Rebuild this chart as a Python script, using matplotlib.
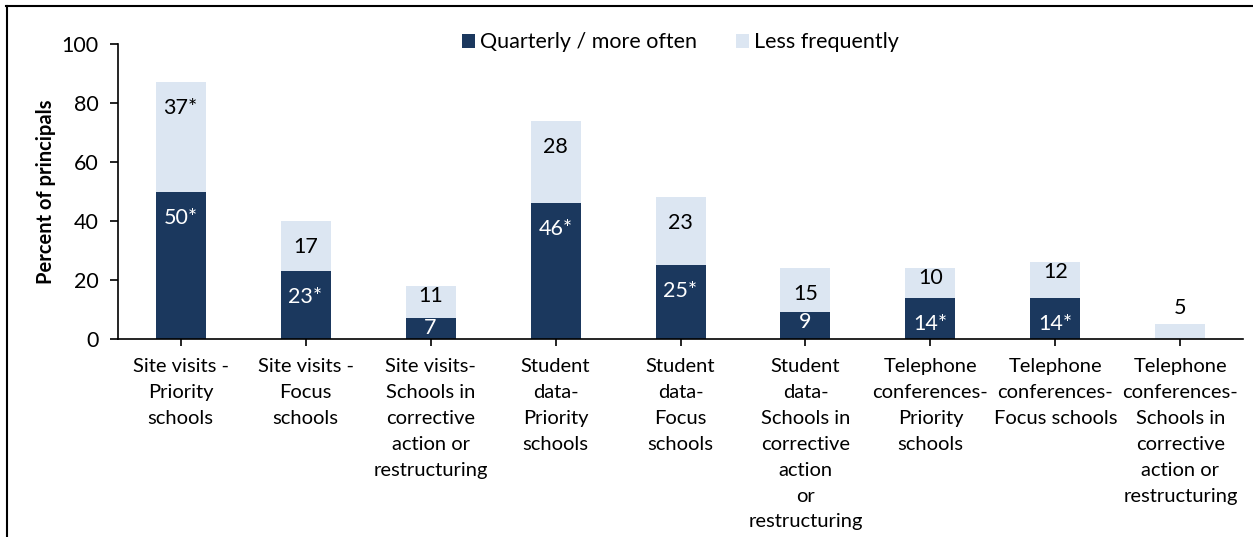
import numpy as np
import matplotlib.pyplot as plt
from matplotlib.lines import Line2D

plt.rcParams['font.family'] = ['Lato', 'DejaVu Sans']

# category labels and values (percent of principals)
categories = [
    'Site visits -\nPriority\nschools',
    'Site visits -\nFocus\nschools',
    'Site visits-\nSchools in\ncorrective\naction or\nrestructuring',
    'Student\ndata-\nPriority\nschools',
    'Student\ndata-\nFocus\nschools',
    'Student\ndata-\nSchools in\ncorrective\naction\nor\nrestructuring',
    'Telephone\nconferences-\nPriority\nschools',
    'Telephone\nconferences-\nFocus schools',
    'Telephone\nconferences-\nSchools in\ncorrective\naction or\nrestructuring',
]
quarterly = [50, 23, 7, 46, 25, 9, 14, 14, 0]
less_freq = [37, 17, 11, 28, 23, 15, 10, 12, 5]
quarterly_labels = ['50*', '23*', '7', '46*', '25*', '9', '14*', '14*', '']
less_labels = ['37*', '17', '11', '28', '23', '15', '10', '12', '5']

dark = '#1b385e'
light = '#dce6f2'
fs = 14.5

fig = plt.figure(figsize=(12.53, 5.37), dpi=100)
ax = fig.add_axes([0.0942, 0.3687, 0.8978, 0.5493])

x = np.arange(len(categories))
w = 0.4
b1 = ax.bar(x, quarterly, w, color=dark, label='Quarterly / more often')
b2 = ax.bar(x, less_freq, w, bottom=quarterly, color=light, label='Less frequently')

ax.set_xlim(-0.5, len(categories) - 0.5)
ax.set_ylim(0, 100)
ax.set_yticks(range(0, 101, 20))
ax.set_xticks(x)
ax.set_xticklabels(categories, fontsize=fs, linespacing=1.63)
ax.tick_params(axis='y', labelsize=15.5, direction='out', length=6, width=1.2, pad=8)
ax.tick_params(axis='x', direction='out', length=5, width=1.2, pad=9)
for s in ['top', 'right']:
    ax.spines[s].set_visible(False)
for s in ['left', 'bottom']:
    ax.spines[s].set_linewidth(1.2)
ax.set_ylabel('Percent of principals', fontsize=fs, fontweight='bold', labelpad=4)

# per-pixel scale to decide label placement
px_per_unit = ax.get_position().height * fig.get_figheight() * fig.dpi / 100.0

def put_labels(bottoms, heights, labels, color):
    for xi, b, h, lab in zip(x, bottoms, heights, labels):
        if not lab:
            continue
        top = b + h
        hp = h * px_per_unit
        if h == less_freq[-1] and quarterly[xi] == 0:
            off = 16
        elif hp > 40:
            off = -26
        else:
            off = -10
        ax.annotate(lab, (xi, top), xytext=(0, off), textcoords='offset pixels',
                    ha='center', va='center', fontsize=15.5, color=color)

put_labels([0] * len(x), quarterly, quarterly_labels, 'white')
put_labels(quarterly, less_freq, less_labels, 'black')

fig.legend(handles=[b1, b2], loc='center', bbox_to_anchor=(0.543, 0.921), ncol=2,
           frameon=False, fontsize=15.5, handlelength=0.6, handleheight=0.6,
           handletextpad=0.25, columnspacing=1.8)

# partial frame around the figure (top and left edges)
fig.add_artist(Line2D([0.005, 1.0], [0.988, 0.988], transform=fig.transFigure, color='black', lw=1.5))
fig.add_artist(Line2D([0.0055, 0.0055], [0.0, 0.988], transform=fig.transFigure, color='black', lw=1.5))

fig.savefig('out.png', dpi=100)
